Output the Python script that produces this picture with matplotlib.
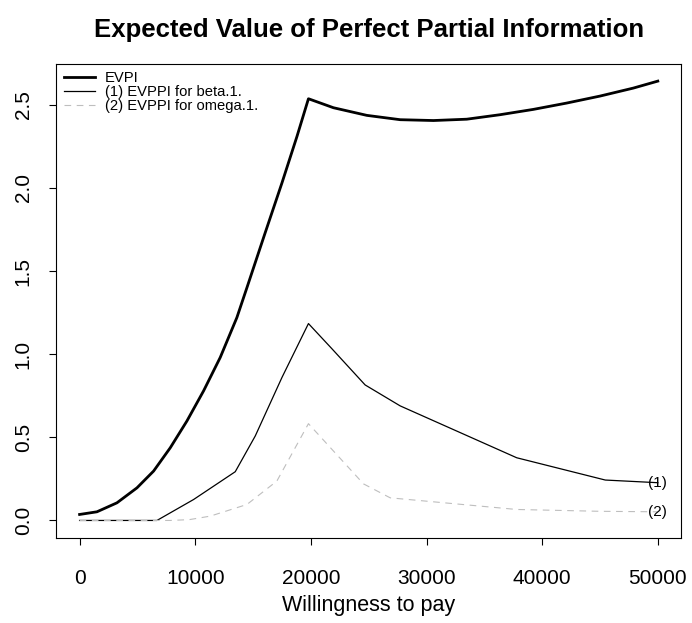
import matplotlib
matplotlib.use('Agg')
from matplotlib import pyplot as plt

plt.rcParams['font.family'] = ['Liberation Sans', 'DejaVu Sans']

# willingness to pay grid and values
wtp_evpi = [0, 1500, 3230, 4960, 6400, 7840, 9280, 10720, 12160, 13600, 14470,
            16000, 17500, 18800, 19790, 21950, 24840, 27720, 30600, 33480,
            36360, 39240, 42120, 45000, 47880, 50000]
evpi = [0.036, 0.052, 0.106, 0.196, 0.297, 0.437, 0.598, 0.779, 0.98, 1.22, 1.40,
        1.72, 2.03, 2.31, 2.536, 2.482, 2.436, 2.41, 2.405, 2.413,
        2.44, 2.472, 2.51, 2.552, 2.60, 2.642]

wtp_beta = [0, 6690, 9860, 13460, 15190, 17500, 19790, 21800, 24690, 27720,
            37800, 45460, 50000]
evppi_beta = [0, 0, 0.126, 0.293, 0.508, 0.86, 1.184, 1.034, 0.815, 0.689,
              0.377, 0.243, 0.227]

wtp_omega = [0, 7840, 9500, 11300, 14470, 17060, 19790, 24550, 26860,
             37800, 45000, 50000]
evppi_omega = [0, 0, 0.005, 0.026, 0.096, 0.237, 0.582, 0.22, 0.136,
               0.066, 0.055, 0.052]

labels = ['EVPI', '(1) EVPPI for beta.1.', '(2) EVPPI for omega.1.']

fig = plt.figure(figsize=(6.92, 6.23), dpi=100)
ax = fig.add_axes([0.0816, 0.1364, 0.9024, 0.7616])

ax.plot(wtp_evpi, evpi, color='black', lw=2.0, label=labels[0])
ax.plot(wtp_beta, evppi_beta, color='black', lw=0.9, label=labels[1])
ax.plot(wtp_omega, evppi_omega, color='#BEBEBE', lw=0.8, dashes=(6, 5),
        label=labels[2])

ax.text(wtp_beta[-1], evppi_beta[-1], '(1)', ha='center', va='center', fontsize=11)
ax.text(wtp_omega[-1], evppi_omega[-1], '(2)', ha='center', va='center', fontsize=11)

ax.margins(x=0.04, y=0.04)
ax.set_xticks([0, 10000, 20000, 30000, 40000, 50000])
ax.set_yticks([0.0, 0.5, 1.0, 1.5, 2.0, 2.5])
ax.set_yticklabels(['0.0', '0.5', '1.0', '1.5', '2.0', '2.5'],
                   rotation=90, va='center')
ax.tick_params(axis='both', length=5, width=0.8, labelsize=15, direction='out')
ax.tick_params(axis='x', pad=17)
ax.tick_params(axis='y', pad=12)
for s in ax.spines.values():
    s.set_linewidth(0.8)

ax.set_xlabel('Willingness to pay', fontsize=15.5, labelpad=5)
ax.set_title('Expected Value of Perfect Partial Information',
             fontsize=18.5, fontweight='bold', pad=19)

ax.legend(loc='upper left', frameon=False, fontsize=10.6, handlelength=2.1,
          handletextpad=0.7, labelspacing=0.0, borderaxespad=0.2,
          borderpad=0.3)

plt.savefig('out.png', dpi=100)
